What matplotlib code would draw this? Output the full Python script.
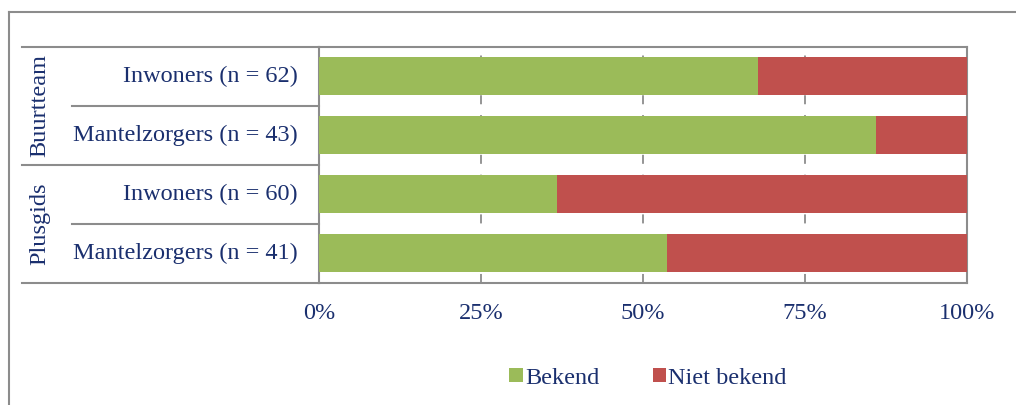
import matplotlib

matplotlib.use("Agg")
import matplotlib.pyplot as plt
import matplotlib.transforms as mtransforms
from matplotlib.lines import Line2D
from matplotlib.patches import Patch

# data (share per group, %)
groups = ["Buurtteam", "Plusgids"]
row_labels = ["Inwoners (n = 62)", "Mantelzorgers (n = 43)",
              "Inwoners (n = 60)", "Mantelzorgers (n = 41)"]
bekend = [67.7, 86.0, 36.7, 53.7]
niet_bekend = [32.3, 14.0, 63.3, 46.3]
x_ticks = [0, 25, 50, 75, 100]
x_ticklabels = ["0%", "25%", "50%", "75%", "100%"]

GREEN, RED = "#9BBB59", "#C0504D"
TEXT_C, LINE_C = "#1A2F6E", "#8C8C8C"
FS = 17.5

plt.rcParams["font.family"] = ["Liberation Serif", "DejaVu Serif"]

W, H = 1016, 405
fig = plt.figure(figsize=(W / 100, H / 100), dpi=100)
ax = fig.add_axes([319 / W, 1 - 282.5 / H, (967 - 319) / W, (282.5 - 46.5) / H])

ypos = list(range(len(row_labels)))
ax.barh(ypos, bekend, height=0.66, color=GREEN, zorder=3)
ax.barh(ypos, niet_bekend, left=bekend, height=0.66, color=RED, zorder=3)
ax.set_xlim(0, 100)
ax.set_ylim(3.5, -0.5)
ax.set_yticks([])
ax.set_xticks(x_ticks)
ax.set_xticklabels(x_ticklabels, fontsize=FS, color=TEXT_C)
ax.tick_params(axis="x", length=0, pad=15)
ax.grid(axis="x", color=LINE_C, linestyle=(0, (5, 6)), linewidth=1.3, zorder=1)
for s in ax.spines.values():
    s.set_color(LINE_C)
    s.set_linewidth(1.5)

# left "table": separator lines, row labels, rotated group labels
tr = mtransforms.blended_transform_factory(fig.transFigure, ax.transData)
for yb, x0 in [(-0.5, 22), (0.5, 72), (1.5, 22), (2.5, 72), (3.5, 22)]:
    fig.add_artist(Line2D([x0 / W, 319 / W], [yb, yb], transform=tr,
                          color=LINE_C, linewidth=1.5))
for y, lab in zip(ypos, row_labels):
    fig.text(298 / W, y, lab, transform=tr, ha="right", va="center",
             fontsize=FS, color=TEXT_C)
for gi, g in enumerate(groups):
    fig.text(40 / W, 2 * gi + 0.5, g, transform=tr, ha="center", va="center",
             rotation=90, fontsize=FS, color=TEXT_C)

# outer chart frame (open at right and bottom, as cropped)
fig.add_artist(Line2D([9 / W, 1.0], [1 - 12 / H, 1 - 12 / H], transform=fig.transFigure,
                      color=LINE_C, linewidth=1.5))
fig.add_artist(Line2D([9 / W, 9 / W], [0, 1 - 12 / H], transform=fig.transFigure,
                      color=LINE_C, linewidth=1.5))

fig.legend(handles=[Patch(facecolor=GREEN, label="Bekend"),
                    Patch(facecolor=RED, label="Niet bekend")],
           loc="center", bbox_to_anchor=(648 / W, 1 - 378 / H), ncol=2, frameon=False,
           fontsize=FS, labelcolor=TEXT_C, handlelength=0.55, handleheight=0.55,
           handletextpad=0.1, columnspacing=2.2, borderpad=0)

fig.savefig("out.png", dpi=100)
